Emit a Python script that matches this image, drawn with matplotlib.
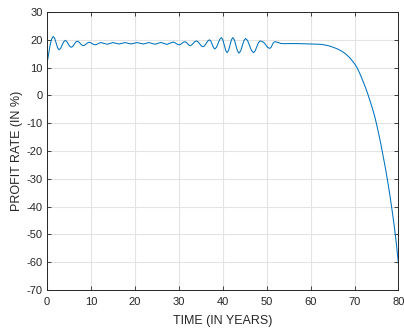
import matplotlib
matplotlib.use("Agg")
import matplotlib.pyplot as plt

# values
time_years = [0, 0.35, 0.7, 1.05, 1.43, 1.76, 2.09, 2.42, 2.75, 3.1, 3.45, 3.8, 4.15,
              4.49, 4.83, 5.16, 5.5, 5.85, 6.2, 6.55, 6.9, 7.24, 7.58, 7.91, 8.25,
              8.59, 8.93, 9.26, 9.6, 9.94, 10.28, 10.61, 10.95, 11.29, 11.63, 11.96, 12.3,
              12.98, 13.7, 14.35, 15.0, 15.7, 16.4, 17.1, 17.8, 18.45, 19.1, 19.8, 20.5,
              21.2, 21.9, 22.55, 23.2, 23.9, 24.6, 25.25, 25.9, 26.6, 27.3, 28.0, 28.7,
              29.04, 29.38, 29.71, 30.05, 30.39, 30.73, 31.06, 31.4, 31.7, 32.0, 32.3, 32.6,
              32.95, 33.3, 33.65, 34.0, 34.38, 34.75, 35.13, 35.5, 35.88, 36.25, 36.63, 37.0,
              37.3, 37.6, 37.9, 38.2, 38.58, 38.95, 39.33, 39.7, 40.03, 40.35, 40.68, 41.0,
              41.33, 41.65, 41.98, 42.3, 42.65, 43.0, 43.35, 43.7, 44.08, 44.45, 44.83, 45.2,
              45.65, 46.1, 46.55, 47.0, 47.38, 47.75, 48.13, 48.5, 48.9, 49.3, 49.7, 50.2,
              50.7, 50.98, 51.25, 51.53, 51.8, 52.5, 53.2, 54.0, 55, 56, 58, 60, 62, 63,
              64, 65, 66, 67, 68, 69, 70, 70.5, 71, 71.5, 72, 72.5, 73, 73.5, 74, 74.5,
              75, 75.5, 76, 76.5, 77, 77.5, 78, 78.5, 79, 79.5, 80]
profit_rate = [11.4, 14.8, 18.0, 20.3, 21.2, 20.5, 18.8, 17.1, 16.4, 16.9, 18.1, 19.3, 19.8,
               19.4, 18.55, 17.7, 17.3, 17.6, 18.4, 19.2, 19.5, 19.27, 18.7, 18.13, 17.9,
               18.08, 18.5, 18.92, 19.1, 18.97, 18.65, 18.33, 18.2, 18.32, 18.6, 18.88, 19.0,
               18.7, 18.4, 18.7, 19.0, 18.75, 18.5, 18.75, 19.0, 18.75, 18.5, 18.75, 19.0,
               18.75, 18.5, 18.75, 19.0, 18.7, 18.4, 18.75, 19.05, 18.7, 18.35, 18.78, 19.2,
               19.05, 18.7, 18.35, 18.2, 18.36, 18.75, 19.14, 19.3, 19.1, 18.6, 18.1, 17.9,
               18.15, 18.75, 19.35, 19.6, 19.29, 18.55, 17.81, 17.5, 17.87, 18.75, 19.63, 20.0,
               19.52, 18.35, 17.18, 16.7, 17.3, 18.75, 20.2, 20.8, 20.01, 18.1, 16.19, 15.4,
               16.19, 18.1, 20.01, 20.8, 19.98, 18.0, 16.02, 15.2, 15.98, 17.85, 19.72, 20.5,
               19.75, 17.95, 16.15, 15.4, 16.02, 17.5, 18.98, 19.6, 19.45, 19.1, 18.4, 17.3,
               16.9, 17.25, 18.1, 18.95, 19.3, 19.1, 18.7, 18.6, 18.65, 18.65, 18.6, 18.5, 18.4, 18.2,
               17.9, 17.4, 16.8, 16.0, 14.9, 13.4, 11.4, 10.2, 8.6, 6.8, 4.8, 2.8, 0.6, -1.8, -4.3, -7.0,
               -10.2, -13.8, -17.6, -21.7, -25.9, -30.5, -35.4, -40.8, -46.5, -53.0, -60.6]

x_ticks = list(range(0, 81, 10))
y_ticks = list(range(-70, 31, 10))

plt.rcParams['font.family'] = ['Liberation Sans', 'DejaVu Sans']
plt.rcParams['axes.unicode_minus'] = False

fig = plt.figure(figsize=(4.04, 3.29), dpi=100)
ax = fig.add_axes([0.1163, 0.1185, 0.870, 0.845])

ax.plot(time_years, profit_rate, color='#0072BD', linewidth=0.75)

ax.set_xlim(0, 80)
ax.set_ylim(-70, 30)
ax.set_xticks(x_ticks)
ax.set_yticks(y_ticks)
ax.grid(True, color='#e3e3e3', linewidth=0.8)
ax.set_axisbelow(True)

ax.tick_params(direction='in', length=3, width=0.6, top=True, right=True,
               labelsize=8, colors='#262626')
ax.tick_params(axis='x', pad=5)
ax.tick_params(axis='y', pad=3)
for s in ax.spines.values():
    s.set_color('#262626')
    s.set_linewidth(0.7)

ax.set_xlabel('TIME (IN YEARS)', fontsize=9, color='#262626', labelpad=6)
ax.set_ylabel('PROFIT RATE (IN %)', fontsize=9, color='#262626', labelpad=3)

fig.savefig('out.png', dpi=100)
